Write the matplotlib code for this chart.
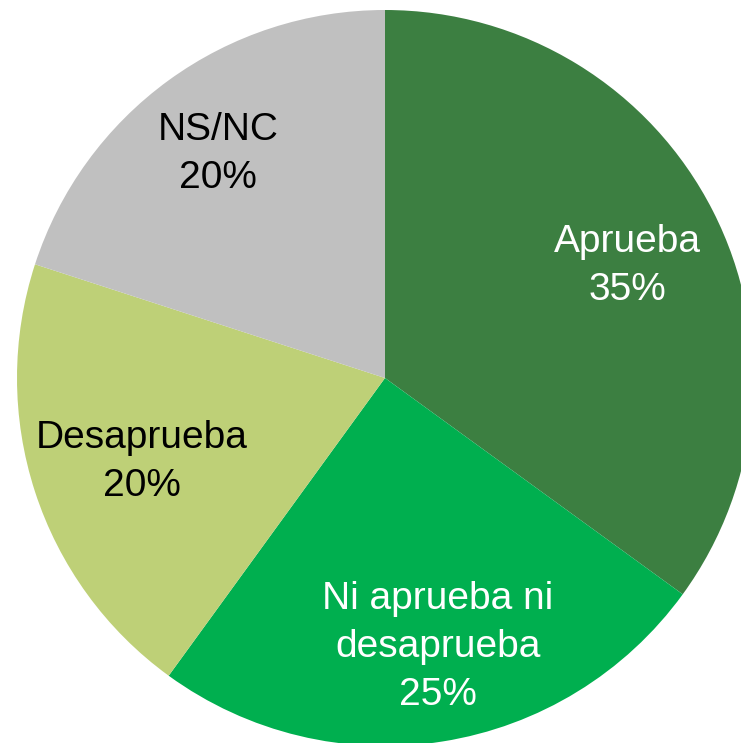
import numpy as np
import matplotlib.pyplot as plt

labels = ['Aprueba', 'Ni aprueba ni\ndesaprueba', 'Desaprueba', 'NS/NC']
values = [35, 25, 20, 20]
colors = ['#3C7F41', '#00AF4F', '#BED077', '#C0C0C0']
text_colors = ['white', 'white', 'black', 'black']
# small nudges of the label blocks, in pixels (x right, y up)
nudges = [(0, -12), (10, 0), (16, 0), (-7, 4)]

plt.rcParams['font.family'] = ['Liberation Sans Narrow', 'Liberation Sans', 'DejaVu Sans']

fig = plt.figure(figsize=(7.41, 7.43), dpi=100)
# pie centre at (385, 378) px, radius 368 px
ax = fig.add_axes([17 / 741, -3 / 743, 736 / 741, 736 / 743])

wedges, _ = ax.pie(values, colors=colors, startangle=90, counterclock=False,
                   radius=1, wedgeprops=dict(edgecolor='none'))
ax.set_xlim(-1, 1)
ax.set_ylim(-1, 1)
ax.set_aspect('equal')
ax.axis('off')

px = 1 / 368
for w, lab, v, tc, (nx, ny) in zip(wedges, labels, values, text_colors, nudges):
    ang = np.deg2rad((w.theta1 + w.theta2) / 2)
    r = 0.74
    ax.text(r * np.cos(ang) + nx * px, r * np.sin(ang) + ny * px, f'{lab}\n{v}%',
            ha='center', va='center', fontsize=28, color=tc, linespacing=1.42)

fig.savefig('out.png', dpi=100)
